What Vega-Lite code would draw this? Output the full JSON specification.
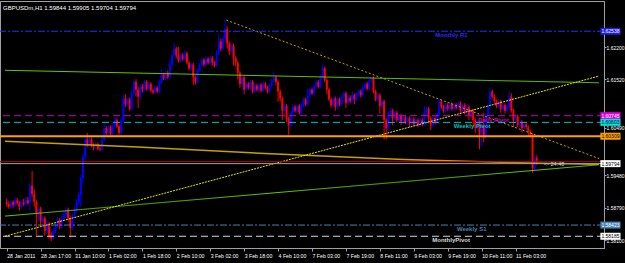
{
"$schema":"https://vega.github.io/schema/vega-lite/v6.json",
"width":604,"height":247,
"autosize":"none",
"padding":{"left":0,"top":1,"right":21,"bottom":15},
"background":"#000000",
"config":{"view":{"stroke":"#a0a0a0","strokeWidth":1},"font":"Liberation Sans"},
"title":{"text":"GBPUSDm,H1  1.59844 1.59905 1.59704 1.59794","anchor":"start","offset":-10,"fontSize":6,"color":"#ffffff","fontWeight":"normal","font":"Liberation Sans","dx":4},
"datasets":{
"bars":[
{"i":0,"o":1.5891,"h":1.5898,"l":1.5881,"c":1.5887},
{"i":1,"o":1.5887,"h":1.5893,"l":1.5877,"c":1.5881},
{"i":2,"o":1.5881,"h":1.5895,"l":1.5877,"c":1.5891},
{"i":3,"o":1.5891,"h":1.5895,"l":1.5879,"c":1.5885},
{"i":4,"o":1.5885,"h":1.5902,"l":1.5881,"c":1.5895},
{"i":5,"o":1.5895,"h":1.5900,"l":1.5885,"c":1.5889},
{"i":6,"o":1.5889,"h":1.5893,"l":1.5873,"c":1.5881},
{"i":7,"o":1.5881,"h":1.5895,"l":1.5877,"c":1.5891},
{"i":8,"o":1.5891,"h":1.5898,"l":1.5883,"c":1.5887},
{"i":9,"o":1.5887,"h":1.5902,"l":1.5883,"c":1.5895},
{"i":10,"o":1.5895,"h":1.5902,"l":1.5885,"c":1.5889},
{"i":11,"o":1.5889,"h":1.5930,"l":1.5873,"c":1.5926},
{"i":12,"o":1.5926,"h":1.5957,"l":1.5902,"c":1.5908},
{"i":13,"o":1.5908,"h":1.5918,"l":1.5881,"c":1.5891},
{"i":14,"o":1.5891,"h":1.5895,"l":1.5820,"c":1.5865},
{"i":15,"o":1.5865,"h":1.5881,"l":1.5851,"c":1.5877},
{"i":16,"o":1.5877,"h":1.5881,"l":1.5840,"c":1.5851},
{"i":17,"o":1.5851,"h":1.5863,"l":1.5845,"c":1.5857},
{"i":18,"o":1.5857,"h":1.5861,"l":1.5820,"c":1.5830},
{"i":19,"o":1.5830,"h":1.5851,"l":1.5824,"c":1.5845},
{"i":20,"o":1.5845,"h":1.5849,"l":1.5812,"c":1.5820},
{"i":21,"o":1.5820,"h":1.5828,"l":1.5808,"c":1.5814},
{"i":22,"o":1.5814,"h":1.5834,"l":1.5810,"c":1.5828},
{"i":23,"o":1.5828,"h":1.5847,"l":1.5824,"c":1.5840},
{"i":24,"o":1.5840,"h":1.5859,"l":1.5836,"c":1.5853},
{"i":25,"o":1.5853,"h":1.5857,"l":1.5834,"c":1.5840},
{"i":26,"o":1.5840,"h":1.5863,"l":1.5836,"c":1.5857},
{"i":27,"o":1.5857,"h":1.5873,"l":1.5853,"c":1.5865},
{"i":28,"o":1.5865,"h":1.5881,"l":1.5861,"c":1.5875},
{"i":29,"o":1.5875,"h":1.5879,"l":1.5851,"c":1.5857},
{"i":30,"o":1.5857,"h":1.5861,"l":1.5816,"c":1.5836},
{"i":31,"o":1.5836,"h":1.5867,"l":1.5832,"c":1.5861},
{"i":32,"o":1.5861,"h":1.5881,"l":1.5857,"c":1.5875},
{"i":33,"o":1.5875,"h":1.5898,"l":1.5871,"c":1.5891},
{"i":34,"o":1.5891,"h":1.5912,"l":1.5885,"c":1.5906},
{"i":35,"o":1.5906,"h":1.5950,"l":1.5881,"c":1.5942},
{"i":36,"o":1.5942,"h":1.5993,"l":1.5932,"c":1.5987},
{"i":37,"o":1.5987,"h":1.6034,"l":1.5979,"c":1.6024},
{"i":38,"o":1.6024,"h":1.6038,"l":1.6008,"c":1.6014},
{"i":39,"o":1.6014,"h":1.6030,"l":1.6010,"c":1.6024},
{"i":40,"o":1.6024,"h":1.6028,"l":1.6008,"c":1.6012},
{"i":41,"o":1.6012,"h":1.6016,"l":1.6001,"c":1.6008},
{"i":42,"o":1.6008,"h":1.6018,"l":1.6003,"c":1.6014},
{"i":43,"o":1.6014,"h":1.6018,"l":1.6001,"c":1.6005},
{"i":44,"o":1.6005,"h":1.6012,"l":1.5999,"c":1.6003},
{"i":45,"o":1.6003,"h":1.6030,"l":1.5999,"c":1.6024},
{"i":46,"o":1.6024,"h":1.6058,"l":1.6020,"c":1.6048},
{"i":47,"o":1.6048,"h":1.6052,"l":1.6034,"c":1.6038},
{"i":48,"o":1.6038,"h":1.6054,"l":1.6034,"c":1.6050},
{"i":49,"o":1.6050,"h":1.6054,"l":1.6032,"c":1.6036},
{"i":50,"o":1.6036,"h":1.6060,"l":1.6032,"c":1.6054},
{"i":51,"o":1.6054,"h":1.6071,"l":1.6050,"c":1.6065},
{"i":52,"o":1.6065,"h":1.6069,"l":1.6048,"c":1.6052},
{"i":53,"o":1.6052,"h":1.6056,"l":1.6034,"c":1.6038},
{"i":54,"o":1.6038,"h":1.6071,"l":1.6034,"c":1.6065},
{"i":55,"o":1.6065,"h":1.6120,"l":1.6060,"c":1.6111},
{"i":56,"o":1.6111,"h":1.6120,"l":1.6093,"c":1.6099},
{"i":57,"o":1.6099,"h":1.6113,"l":1.6095,"c":1.6109},
{"i":58,"o":1.6109,"h":1.6113,"l":1.6085,"c":1.6089},
{"i":59,"o":1.6089,"h":1.6128,"l":1.6085,"c":1.6122},
{"i":60,"o":1.6122,"h":1.6152,"l":1.6118,"c":1.6146},
{"i":61,"o":1.6146,"h":1.6152,"l":1.6115,"c":1.6130},
{"i":62,"o":1.6130,"h":1.6136,"l":1.6091,"c":1.6115},
{"i":63,"o":1.6115,"h":1.6142,"l":1.6111,"c":1.6136},
{"i":64,"o":1.6136,"h":1.6142,"l":1.6124,"c":1.6130},
{"i":65,"o":1.6130,"h":1.6150,"l":1.6126,"c":1.6146},
{"i":66,"o":1.6146,"h":1.6150,"l":1.6128,"c":1.6132},
{"i":67,"o":1.6132,"h":1.6146,"l":1.6128,"c":1.6142},
{"i":68,"o":1.6142,"h":1.6146,"l":1.6124,"c":1.6128},
{"i":69,"o":1.6128,"h":1.6132,"l":1.6120,"c":1.6124},
{"i":70,"o":1.6124,"h":1.6138,"l":1.6120,"c":1.6134},
{"i":71,"o":1.6134,"h":1.6138,"l":1.6122,"c":1.6126},
{"i":72,"o":1.6126,"h":1.6150,"l":1.6122,"c":1.6146},
{"i":73,"o":1.6146,"h":1.6173,"l":1.6142,"c":1.6162},
{"i":74,"o":1.6162,"h":1.6166,"l":1.6150,"c":1.6154},
{"i":75,"o":1.6154,"h":1.6170,"l":1.6150,"c":1.6166},
{"i":76,"o":1.6166,"h":1.6170,"l":1.6152,"c":1.6156},
{"i":77,"o":1.6156,"h":1.6193,"l":1.6152,"c":1.6183},
{"i":78,"o":1.6183,"h":1.6207,"l":1.6179,"c":1.6203},
{"i":79,"o":1.6203,"h":1.6228,"l":1.6199,"c":1.6217},
{"i":80,"o":1.6217,"h":1.6221,"l":1.6197,"c":1.6203},
{"i":81,"o":1.6203,"h":1.6221,"l":1.6187,"c":1.6191},
{"i":82,"o":1.6191,"h":1.6207,"l":1.6187,"c":1.6203},
{"i":83,"o":1.6203,"h":1.6207,"l":1.6191,"c":1.6195},
{"i":84,"o":1.6195,"h":1.6213,"l":1.6191,"c":1.6207},
{"i":85,"o":1.6207,"h":1.6211,"l":1.6183,"c":1.6187},
{"i":86,"o":1.6187,"h":1.6191,"l":1.6170,"c":1.6175},
{"i":87,"o":1.6175,"h":1.6187,"l":1.6170,"c":1.6183},
{"i":88,"o":1.6183,"h":1.6187,"l":1.6140,"c":1.6156},
{"i":89,"o":1.6156,"h":1.6160,"l":1.6140,"c":1.6146},
{"i":90,"o":1.6146,"h":1.6175,"l":1.6142,"c":1.6170},
{"i":91,"o":1.6170,"h":1.6187,"l":1.6166,"c":1.6183},
{"i":92,"o":1.6183,"h":1.6197,"l":1.6179,"c":1.6193},
{"i":93,"o":1.6193,"h":1.6197,"l":1.6179,"c":1.6183},
{"i":94,"o":1.6183,"h":1.6201,"l":1.6179,"c":1.6195},
{"i":95,"o":1.6195,"h":1.6199,"l":1.6183,"c":1.6187},
{"i":96,"o":1.6187,"h":1.6201,"l":1.6183,"c":1.6197},
{"i":97,"o":1.6197,"h":1.6201,"l":1.6181,"c":1.6187},
{"i":98,"o":1.6187,"h":1.6191,"l":1.6177,"c":1.6181},
{"i":99,"o":1.6181,"h":1.6213,"l":1.6177,"c":1.6207},
{"i":100,"o":1.6207,"h":1.6248,"l":1.6203,"c":1.6232},
{"i":101,"o":1.6232,"h":1.6238,"l":1.6211,"c":1.6217},
{"i":102,"o":1.6217,"h":1.6244,"l":1.6213,"c":1.6238},
{"i":103,"o":1.6238,"h":1.6278,"l":1.6234,"c":1.6258},
{"i":104,"o":1.6258,"h":1.6264,"l":1.6217,"c":1.6228},
{"i":105,"o":1.6228,"h":1.6232,"l":1.6203,"c":1.6211},
{"i":106,"o":1.6211,"h":1.6228,"l":1.6207,"c":1.6223},
{"i":107,"o":1.6223,"h":1.6228,"l":1.6181,"c":1.6197},
{"i":108,"o":1.6197,"h":1.6201,"l":1.6179,"c":1.6187},
{"i":109,"o":1.6187,"h":1.6191,"l":1.6152,"c":1.6166},
{"i":110,"o":1.6166,"h":1.6170,"l":1.6134,"c":1.6142},
{"i":111,"o":1.6142,"h":1.6160,"l":1.6136,"c":1.6156},
{"i":112,"o":1.6156,"h":1.6160,"l":1.6120,"c":1.6130},
{"i":113,"o":1.6130,"h":1.6146,"l":1.6126,"c":1.6142},
{"i":114,"o":1.6142,"h":1.6146,"l":1.6130,"c":1.6134},
{"i":115,"o":1.6134,"h":1.6150,"l":1.6130,"c":1.6146},
{"i":116,"o":1.6146,"h":1.6150,"l":1.6122,"c":1.6126},
{"i":117,"o":1.6126,"h":1.6142,"l":1.6122,"c":1.6138},
{"i":118,"o":1.6138,"h":1.6142,"l":1.6126,"c":1.6130},
{"i":119,"o":1.6130,"h":1.6144,"l":1.6126,"c":1.6140},
{"i":120,"o":1.6140,"h":1.6144,"l":1.6124,"c":1.6128},
{"i":121,"o":1.6128,"h":1.6148,"l":1.6124,"c":1.6142},
{"i":122,"o":1.6142,"h":1.6146,"l":1.6130,"c":1.6134},
{"i":123,"o":1.6134,"h":1.6138,"l":1.6122,"c":1.6126},
{"i":124,"o":1.6126,"h":1.6142,"l":1.6122,"c":1.6138},
{"i":125,"o":1.6138,"h":1.6154,"l":1.6134,"c":1.6150},
{"i":126,"o":1.6150,"h":1.6168,"l":1.6146,"c":1.6156},
{"i":127,"o":1.6156,"h":1.6160,"l":1.6140,"c":1.6146},
{"i":128,"o":1.6146,"h":1.6150,"l":1.6105,"c":1.6126},
{"i":129,"o":1.6126,"h":1.6130,"l":1.6105,"c":1.6111},
{"i":130,"o":1.6111,"h":1.6115,"l":1.6065,"c":1.6085},
{"i":131,"o":1.6085,"h":1.6099,"l":1.6081,"c":1.6095},
{"i":132,"o":1.6095,"h":1.6099,"l":1.6060,"c":1.6069},
{"i":133,"o":1.6069,"h":1.6073,"l":1.6034,"c":1.6054},
{"i":134,"o":1.6054,"h":1.6085,"l":1.6050,"c":1.6081},
{"i":135,"o":1.6081,"h":1.6099,"l":1.6077,"c":1.6093},
{"i":136,"o":1.6093,"h":1.6097,"l":1.6081,"c":1.6085},
{"i":137,"o":1.6085,"h":1.6099,"l":1.6081,"c":1.6095},
{"i":138,"o":1.6095,"h":1.6099,"l":1.6077,"c":1.6081},
{"i":139,"o":1.6081,"h":1.6101,"l":1.6077,"c":1.6097},
{"i":140,"o":1.6097,"h":1.6113,"l":1.6093,"c":1.6109},
{"i":141,"o":1.6109,"h":1.6113,"l":1.6095,"c":1.6099},
{"i":142,"o":1.6099,"h":1.6132,"l":1.6095,"c":1.6118},
{"i":143,"o":1.6118,"h":1.6134,"l":1.6113,"c":1.6130},
{"i":144,"o":1.6130,"h":1.6134,"l":1.6118,"c":1.6122},
{"i":145,"o":1.6122,"h":1.6142,"l":1.6118,"c":1.6138},
{"i":146,"o":1.6138,"h":1.6152,"l":1.6134,"c":1.6146},
{"i":147,"o":1.6146,"h":1.6150,"l":1.6132,"c":1.6136},
{"i":148,"o":1.6136,"h":1.6160,"l":1.6132,"c":1.6156},
{"i":149,"o":1.6156,"h":1.6183,"l":1.6152,"c":1.6175},
{"i":150,"o":1.6175,"h":1.6179,"l":1.6146,"c":1.6150},
{"i":151,"o":1.6150,"h":1.6154,"l":1.6120,"c":1.6130},
{"i":152,"o":1.6130,"h":1.6134,"l":1.6105,"c":1.6109},
{"i":153,"o":1.6109,"h":1.6113,"l":1.6091,"c":1.6097},
{"i":154,"o":1.6097,"h":1.6115,"l":1.6093,"c":1.6111},
{"i":155,"o":1.6111,"h":1.6115,"l":1.6085,"c":1.6093},
{"i":156,"o":1.6093,"h":1.6113,"l":1.6089,"c":1.6109},
{"i":157,"o":1.6109,"h":1.6113,"l":1.6095,"c":1.6099},
{"i":158,"o":1.6099,"h":1.6120,"l":1.6095,"c":1.6115},
{"i":159,"o":1.6115,"h":1.6126,"l":1.6111,"c":1.6122},
{"i":160,"o":1.6122,"h":1.6126,"l":1.6091,"c":1.6101},
{"i":161,"o":1.6101,"h":1.6118,"l":1.6097,"c":1.6113},
{"i":162,"o":1.6113,"h":1.6118,"l":1.6101,"c":1.6105},
{"i":163,"o":1.6105,"h":1.6126,"l":1.6101,"c":1.6118},
{"i":164,"o":1.6118,"h":1.6122,"l":1.6099,"c":1.6109},
{"i":165,"o":1.6109,"h":1.6124,"l":1.6105,"c":1.6120},
{"i":166,"o":1.6120,"h":1.6130,"l":1.6115,"c":1.6126},
{"i":167,"o":1.6126,"h":1.6130,"l":1.6113,"c":1.6118},
{"i":168,"o":1.6118,"h":1.6138,"l":1.6113,"c":1.6134},
{"i":169,"o":1.6134,"h":1.6146,"l":1.6130,"c":1.6142},
{"i":170,"o":1.6142,"h":1.6146,"l":1.6128,"c":1.6132},
{"i":171,"o":1.6132,"h":1.6152,"l":1.6128,"c":1.6150},
{"i":172,"o":1.6150,"h":1.6156,"l":1.6146,"c":1.6154},
{"i":173,"o":1.6154,"h":1.6158,"l":1.6122,"c":1.6126},
{"i":174,"o":1.6126,"h":1.6130,"l":1.6105,"c":1.6109},
{"i":175,"o":1.6109,"h":1.6122,"l":1.6105,"c":1.6118},
{"i":176,"o":1.6118,"h":1.6122,"l":1.6079,"c":1.6095},
{"i":177,"o":1.6095,"h":1.6109,"l":1.6091,"c":1.6105},
{"i":178,"o":1.6105,"h":1.6109,"l":1.6024,"c":1.6065},
{"i":179,"o":1.6065,"h":1.6069,"l":1.6024,"c":1.6048},
{"i":180,"o":1.6048,"h":1.6085,"l":1.6038,"c":1.6081},
{"i":181,"o":1.6081,"h":1.6091,"l":1.6077,"c":1.6085},
{"i":182,"o":1.6085,"h":1.6089,"l":1.6054,"c":1.6069},
{"i":183,"o":1.6069,"h":1.6085,"l":1.6065,"c":1.6081},
{"i":184,"o":1.6081,"h":1.6085,"l":1.6060,"c":1.6065},
{"i":185,"o":1.6065,"h":1.6079,"l":1.6060,"c":1.6075},
{"i":186,"o":1.6075,"h":1.6079,"l":1.6054,"c":1.6063},
{"i":187,"o":1.6063,"h":1.6075,"l":1.6058,"c":1.6071},
{"i":188,"o":1.6071,"h":1.6075,"l":1.6056,"c":1.6060},
{"i":189,"o":1.6060,"h":1.6073,"l":1.6056,"c":1.6069},
{"i":190,"o":1.6069,"h":1.6073,"l":1.6050,"c":1.6058},
{"i":191,"o":1.6058,"h":1.6071,"l":1.6054,"c":1.6067},
{"i":192,"o":1.6067,"h":1.6071,"l":1.6052,"c":1.6056},
{"i":193,"o":1.6056,"h":1.6069,"l":1.6052,"c":1.6065},
{"i":194,"o":1.6065,"h":1.6069,"l":1.6050,"c":1.6054},
{"i":195,"o":1.6054,"h":1.6069,"l":1.6050,"c":1.6065},
{"i":196,"o":1.6065,"h":1.6069,"l":1.6052,"c":1.6056},
{"i":197,"o":1.6056,"h":1.6095,"l":1.6052,"c":1.6081},
{"i":198,"o":1.6081,"h":1.6093,"l":1.6077,"c":1.6089},
{"i":199,"o":1.6089,"h":1.6093,"l":1.6058,"c":1.6069},
{"i":200,"o":1.6069,"h":1.6073,"l":1.6044,"c":1.6054},
{"i":201,"o":1.6054,"h":1.6073,"l":1.6050,"c":1.6069},
{"i":202,"o":1.6069,"h":1.6073,"l":1.6056,"c":1.6060},
{"i":203,"o":1.6060,"h":1.6081,"l":1.6056,"c":1.6077},
{"i":204,"o":1.6077,"h":1.6111,"l":1.6073,"c":1.6105},
{"i":205,"o":1.6105,"h":1.6109,"l":1.6089,"c":1.6093},
{"i":206,"o":1.6093,"h":1.6097,"l":1.6081,"c":1.6085},
{"i":207,"o":1.6085,"h":1.6101,"l":1.6081,"c":1.6097},
{"i":208,"o":1.6097,"h":1.6101,"l":1.6085,"c":1.6089},
{"i":209,"o":1.6089,"h":1.6101,"l":1.6085,"c":1.6099},
{"i":210,"o":1.6099,"h":1.6103,"l":1.6085,"c":1.6089},
{"i":211,"o":1.6089,"h":1.6101,"l":1.6085,"c":1.6097},
{"i":212,"o":1.6097,"h":1.6101,"l":1.6087,"c":1.6091},
{"i":213,"o":1.6091,"h":1.6105,"l":1.6087,"c":1.6101},
{"i":214,"o":1.6101,"h":1.6105,"l":1.6079,"c":1.6085},
{"i":215,"o":1.6085,"h":1.6101,"l":1.6081,"c":1.6097},
{"i":216,"o":1.6097,"h":1.6101,"l":1.6077,"c":1.6081},
{"i":217,"o":1.6081,"h":1.6099,"l":1.6077,"c":1.6093},
{"i":218,"o":1.6093,"h":1.6097,"l":1.6065,"c":1.6075},
{"i":219,"o":1.6075,"h":1.6089,"l":1.6071,"c":1.6085},
{"i":220,"o":1.6085,"h":1.6089,"l":1.6054,"c":1.6065},
{"i":221,"o":1.6065,"h":1.6069,"l":1.6038,"c":1.6048},
{"i":222,"o":1.6048,"h":1.6065,"l":1.6044,"c":1.6060},
{"i":223,"o":1.6060,"h":1.6065,"l":1.6003,"c":1.6034},
{"i":224,"o":1.6034,"h":1.6058,"l":1.6010,"c":1.6054},
{"i":225,"o":1.6054,"h":1.6081,"l":1.6018,"c":1.6028},
{"i":226,"o":1.6028,"h":1.6079,"l":1.6024,"c":1.6075},
{"i":227,"o":1.6075,"h":1.6099,"l":1.6071,"c":1.6095},
{"i":228,"o":1.6095,"h":1.6134,"l":1.6091,"c":1.6126},
{"i":229,"o":1.6126,"h":1.6130,"l":1.6111,"c":1.6115},
{"i":230,"o":1.6115,"h":1.6120,"l":1.6101,"c":1.6105},
{"i":231,"o":1.6105,"h":1.6109,"l":1.6091,"c":1.6095},
{"i":232,"o":1.6095,"h":1.6109,"l":1.6091,"c":1.6105},
{"i":233,"o":1.6105,"h":1.6109,"l":1.6081,"c":1.6089},
{"i":234,"o":1.6089,"h":1.6101,"l":1.6085,"c":1.6097},
{"i":235,"o":1.6097,"h":1.6101,"l":1.6079,"c":1.6085},
{"i":236,"o":1.6085,"h":1.6097,"l":1.6081,"c":1.6093},
{"i":237,"o":1.6093,"h":1.6126,"l":1.6089,"c":1.6115},
{"i":238,"o":1.6115,"h":1.6122,"l":1.6081,"c":1.6085},
{"i":239,"o":1.6085,"h":1.6089,"l":1.6050,"c":1.6065},
{"i":240,"o":1.6065,"h":1.6077,"l":1.6060,"c":1.6073},
{"i":241,"o":1.6073,"h":1.6077,"l":1.6050,"c":1.6054},
{"i":242,"o":1.6054,"h":1.6065,"l":1.6050,"c":1.6060},
{"i":243,"o":1.6060,"h":1.6065,"l":1.6038,"c":1.6048},
{"i":244,"o":1.6048,"h":1.6060,"l":1.6044,"c":1.6056},
{"i":245,"o":1.6056,"h":1.6060,"l":1.6046,"c":1.6050},
{"i":246,"o":1.6050,"h":1.6054,"l":1.6030,"c":1.6041},
{"i":247,"o":1.6041,"h":1.6044,"l":1.6030,"c":1.6034},
{"i":248,"o":1.6034,"h":1.6038,"l":1.5953,"c":1.5963},
{"i":249,"o":1.5963,"h":1.5987,"l":1.5955,"c":1.5983},
{"i":250,"o":1.59844,"h":1.59905,"l":1.59704,"c":1.59794}
],
"levels":[
{"name":"Monthly R1","p":1.62538,"col":"#2a2aff","dash":[7,2,2,2],"w":1,"tx":209.8,"box":"1.62538","bcol":"#1e1ee6","tcol":"#ffffff"},
{"name":"Daily Pivot","p":1.60745,"col":"#c000c0","dash":[7,4],"w":1,"tx":229.5,"box":"1.60745","bcol":"#e000e0","tcol":"#ffffff"},
{"name":"Weekly Pivot","p":1.60603,"col":"#00c0c0","dash":[7,4],"w":1,"tx":219.5,"box":"1.60603","bcol":"#00e0e0","tcol":"#000000"},
{"name":"","p":1.60309,"col":"#ffa000","dash":[1,0],"w":2,"tx":0,"box":"1.60309","bcol":"#ffa000","tcol":"#000000"},
{"name":"","p":1.59768,"col":"#c00000","dash":[1,0],"w":1,"tx":0,"box":"","bcol":"#c00000","tcol":"#ffffff"},
{"name":"","p":1.59727,"col":"#a0a0a0","dash":[1,0],"w":1,"tx":0,"box":"1.59794","bcol":"#ffffff","tcol":"#000000"},
{"name":"Weekly S1","p":1.58423,"col":"#4682b4","dash":[7,2,2,2],"w":1,"tx":219.3,"box":"1.58423","bcol":"#4682b4","tcol":"#ffffff"},
{"name":"MonthlyPivot","p":1.58185,"col":"#d8d8d8","dash":[7,4],"w":1,"tx":209.6,"box":"1.58185","bcol":"#ffffff","tcol":"#000000"}
],
"trend":[
{"x1":-0.79,"x2":279.35,"p1":1.61709,"p2":1.61444,"col":"#66cc00","dash":[1,0]},
{"x1":-0.79,"x2":279.35,"p1":1.58613,"p2":1.59703,"col":"#66cc00","dash":[1,0]},
{"x1":-0.79,"x2":279.35,"p1":1.58185,"p2":1.61587,"col":"#e6e600","dash":[2,1]},
{"x1":103.6,"x2":279.35,"p1":1.62774,"p2":1.59835,"col":"#c8a000","dash":[2,2]}
],
"ma":[
{"i":-0.79,"p":1.60201},{"i":61.8,"p":1.60079},{"i":124.4,"p":1.59937},{"i":187.1,"p":1.59814},{"i":251.9,"p":1.59733},{"i":279.35,"p":1.59713}
],
"timer":[{"i":253.4,"p":1.59713,"t":"<- 24:48"}]
},
"layer":[
{"data":{"name":"bars"},"mark":{"type":"rule","strokeWidth":1},
 "encoding":{
  "x":{"field":"i","type":"quantitative","scale":{"domain":[-0.79,279.35],"nice":false,"zero":false},
   "axis":{"values":[0,16,32,48,64,80,96,112,128,144,160,176,192,208,224,240],
    "labelExpr":"{'0':'28 Jan 2011','16':'28 Jan 17:00','32':'31 Jan 10:00','48':'1 Feb 02:00','64':'1 Feb 18:00','80':'2 Feb 10:00','96':'3 Feb 02:00','112':'3 Feb 18:00','128':'4 Feb 10:00','144':'7 Feb 03:00','160':'7 Feb 19:00','176':'8 Feb 11:00','192':'9 Feb 03:00','208':'9 Feb 19:00','224':'10 Feb 11:00','240':'11 Feb 03:00'}[datum.value]",
    "labelAlign":"left","labelColor":"#ffffff","labelFont":"Liberation Sans","labelFontSize":5.2,"labelPadding":2,"labelDx":1,"tickSize":3,"tickColor":"#a0a0a0","domainColor":"#a0a0a0","grid":false,"title":null,"labelOverlap":false,"labelFlush":false}},
  "y":{"field":"l","type":"quantitative","scale":{"domain":[1.58042,1.63074],"nice":false,"zero":false},
   "axis":{"orient":"right","values":[1.6289,1.622,1.6186,1.6152,1.6118,1.6049,1.6015,1.5948,1.5912,1.5879,1.5844,1.581],"format":".5f",
    "labelColor":"#ffffff","labelFont":"Liberation Sans","labelFontSize":5,"labelPadding":0,"tickSize":2,"tickColor":"#a0a0a0","domainColor":"#a0a0a0","grid":false,"title":null,"labelOverlap":false,"labelFlush":false}},
  "y2":{"field":"h"},
  "color":{"condition":{"test":"datum.c > datum.o","value":"#0000ff"},"value":"#ff0000"}
 }},
{"data":{"name":"bars"},"mark":{"type":"bar","size":2},
 "encoding":{
  "x":{"field":"i","type":"quantitative"},
  "y":{"field":"o","type":"quantitative"},
  "y2":{"field":"c"},
  "color":{"condition":{"test":"datum.c > datum.o","value":"#0000ff"},"value":"#ff0000"}
 }},
{"data":{"name":"ma"},"mark":{"type":"line","color":"#c8a000","strokeWidth":1.5},
 "encoding":{"x":{"field":"i","type":"quantitative"},"y":{"field":"p","type":"quantitative"}}},
{"data":{"name":"trend"},"mark":{"type":"rule","strokeWidth":1},
 "encoding":{"x":{"field":"x1","type":"quantitative"},"x2":{"field":"x2"},"y":{"field":"p1","type":"quantitative"},"y2":{"field":"p2"},
  "color":{"field":"col","type":"nominal","scale":null},"strokeDash":{"field":"dash","type":"nominal","scale":null}}},
{"data":{"name":"levels"},"mark":{"type":"rule"},
 "encoding":{"y":{"field":"p","type":"quantitative"},
  "color":{"field":"col","type":"nominal","scale":null},"strokeDash":{"field":"dash","type":"nominal","scale":null},
  "strokeWidth":{"field":"w","type":"quantitative","scale":null}}},
{"data":{"name":"levels"},"transform":[{"filter":"datum.name != ''"}],"mark":{"type":"text","baseline":"top","align":"center","fontSize":6,"font":"Liberation Sans","fontWeight":"bold","dy":1},
 "encoding":{"x":{"field":"tx","type":"quantitative"},"y":{"field":"p","type":"quantitative"},"text":{"field":"name"},
  "color":{"field":"col","type":"nominal","scale":null}}},
{"data":{"name":"timer"},"mark":{"type":"text","baseline":"middle","align":"left","fontSize":5.5,"font":"Liberation Sans","color":"#d0d0d0"},
 "encoding":{"x":{"field":"i","type":"quantitative"},"y":{"field":"p","type":"quantitative"},"text":{"field":"t"}}},
{"data":{"name":"levels"},"transform":[{"filter":"datum.box != ''"}],"mark":{"type":"bar","size":7,"clip":false},
 "encoding":{"x":{"datum":280.0},"x2":{"datum":289.5},"y":{"field":"p","type":"quantitative"},
  "color":{"field":"bcol","type":"nominal","scale":null}}},
{"data":{"name":"levels"},"transform":[{"filter":"datum.box != ''"}],"mark":{"type":"text","align":"left","baseline":"middle","fontSize":5,"font":"Liberation Sans","clip":false,"dx":1},
 "encoding":{"x":{"datum":280.0},"y":{"field":"p","type":"quantitative"},"text":{"field":"box"},
  "color":{"field":"tcol","type":"nominal","scale":null}}}
]
}
